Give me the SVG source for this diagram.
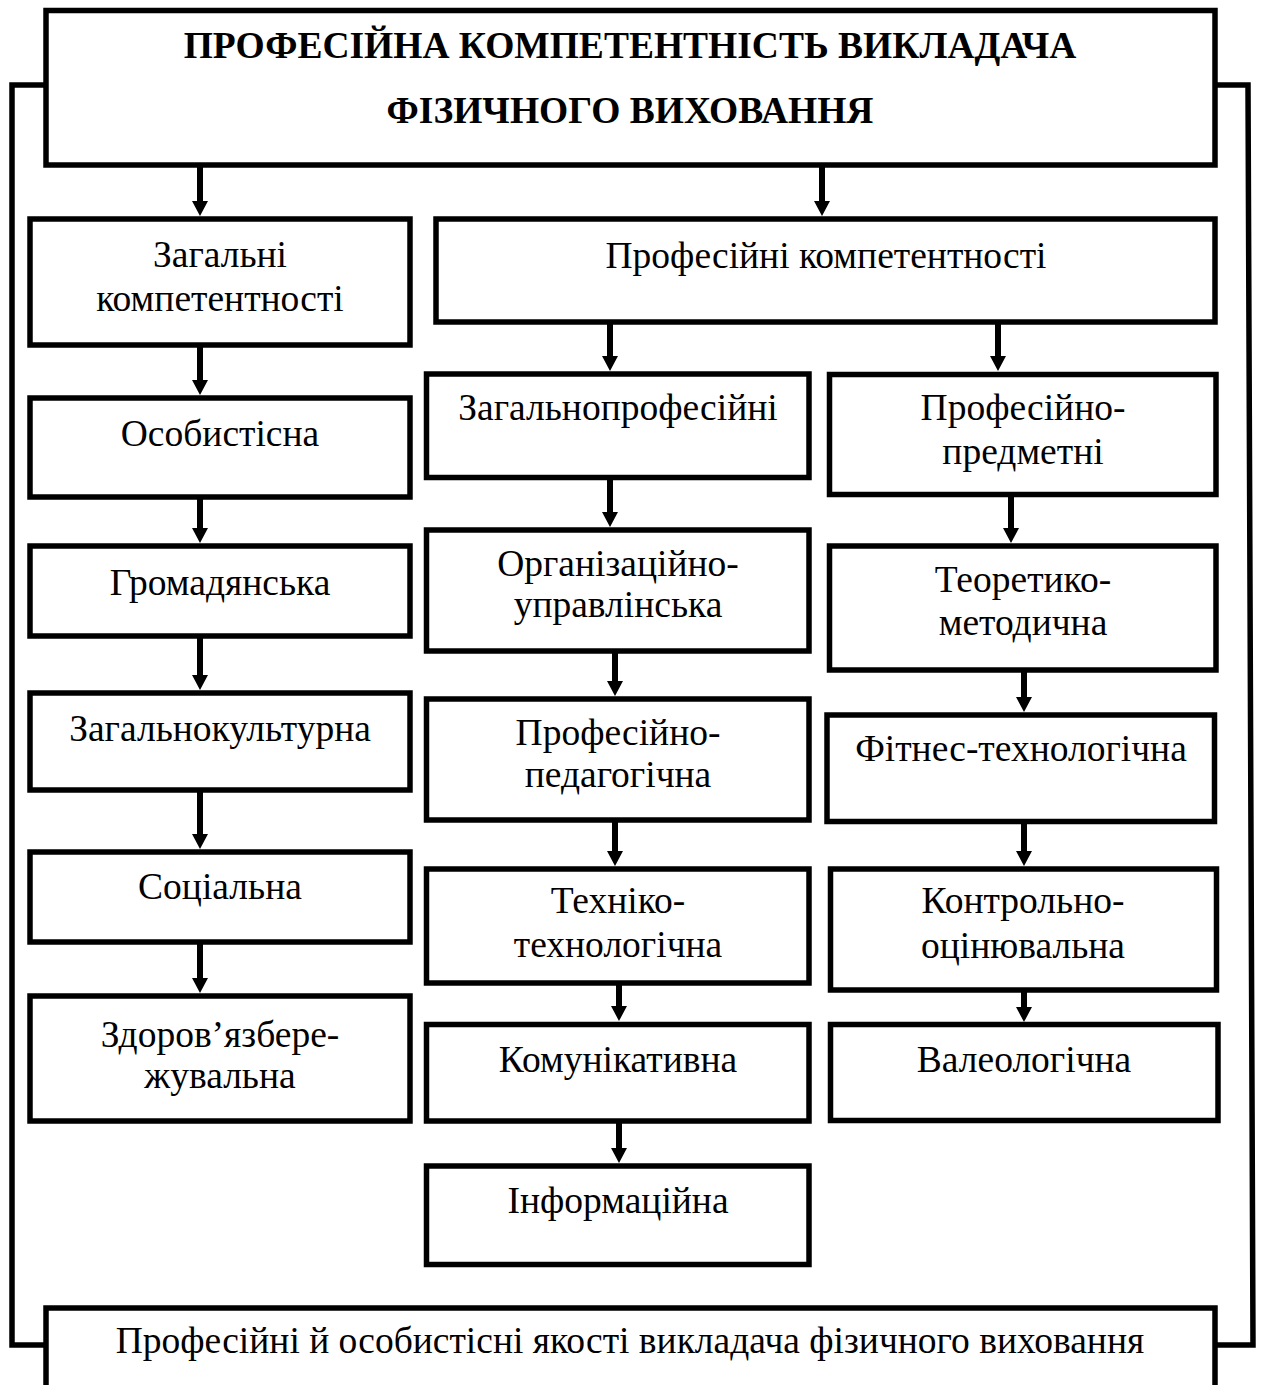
<svg xmlns="http://www.w3.org/2000/svg" width="1261" height="1385" viewBox="0 0 1261 1385">
<style>
.box{fill:#fff;stroke:#000;stroke-width:5.5}
.t{font-family:"Liberation Serif","Times New Roman",serif;font-size:37.5px;fill:#000;text-anchor:middle}
.b{font-weight:bold;font-size:37.5px}
.c{fill:none;stroke:#000;stroke-width:5.5}
.a{stroke:#000;stroke-width:6;fill:none;marker-end:url(#ah)}
</style>
<defs>
<marker id="ah" markerUnits="userSpaceOnUse" markerWidth="16" markerHeight="17" refX="2" refY="8" orient="auto" viewBox="0 0 16 17">
<path d="M0,0 L15,8 L0,16 z" fill="#000"/>
</marker>
</defs>
<rect width="1261" height="1385" fill="#fff"/>
<g id="connectors">
<polyline class="c" points="46,85 12,85 12,1345 46,1345"/>
<polyline class="c" points="1215,85 1248,85 1253,1345 1215,1345"/>
<line class="a" x1="200" y1="165" x2="200" y2="203"/>
<line class="a" x1="822" y1="165" x2="822" y2="203"/>
<line class="a" x1="200" y1="345" x2="200" y2="382"/>
<line class="a" x1="200" y1="497" x2="200" y2="530"/>
<line class="a" x1="200" y1="636" x2="200" y2="677"/>
<line class="a" x1="200" y1="790" x2="200" y2="836"/>
<line class="a" x1="200" y1="942" x2="200" y2="980"/>
<line class="a" x1="610" y1="322" x2="610" y2="358"/>
<line class="a" x1="998" y1="322" x2="998" y2="358"/>
<line class="a" x1="610" y1="477" x2="610" y2="514"/>
<line class="a" x1="615" y1="651" x2="615" y2="683"/>
<line class="a" x1="615" y1="820" x2="615" y2="853"/>
<line class="a" x1="619" y1="983" x2="619" y2="1008"/>
<line class="a" x1="619" y1="1121" x2="619" y2="1150"/>
<line class="a" x1="1011" y1="494" x2="1011" y2="530"/>
<line class="a" x1="1024" y1="670" x2="1024" y2="699"/>
<line class="a" x1="1024" y1="821" x2="1024" y2="853"/>
<line class="a" x1="1024" y1="990" x2="1024" y2="1009"/>
</g>
<g id="title">
<rect class="box" x="46" y="10.5" width="1169" height="154.5"/>
<text class="t b" x="630" y="58">ПРОФЕСІЙНА КОМПЕТЕНТНІСТЬ ВИКЛАДАЧА</text>
<text class="t b" x="630" y="123">ФІЗИЧНОГО ВИХОВАННЯ</text>
</g>
<g id="zagalni">
<rect class="box" x="30" y="219" width="380" height="126"/>
<text class="t" x="220" y="267">Загальні</text>
<text class="t" x="220" y="311">компетентності</text>
</g>
<g id="osobystisna">
<rect class="box" x="30" y="398" width="380" height="99"/>
<text class="t" x="220" y="446">Особистісна</text>
</g>
<g id="hromadianska">
<rect class="box" x="30" y="546" width="380" height="90"/>
<text class="t" x="220" y="595">Громадянська</text>
</g>
<g id="zagalnokulturna">
<rect class="box" x="30" y="693" width="380" height="97"/>
<text class="t" x="220" y="741">Загальнокультурна</text>
</g>
<g id="sotsialna">
<rect class="box" x="30" y="852" width="380" height="90"/>
<text class="t" x="220" y="899">Соціальна</text>
</g>
<g id="zdorov">
<rect class="box" x="30" y="996" width="380" height="125"/>
<text class="t" x="220" y="1047">Здоров’язбере-</text>
<text class="t" x="220" y="1088">жувальна</text>
</g>
<g id="profesiini">
<rect class="box" x="436" y="219" width="779" height="103"/>
<text class="t" x="826" y="268">Професійні компетентності</text>
</g>
<g id="zagalnoprof">
<rect class="box" x="426.5" y="374" width="382.5" height="103.5"/>
<text class="t" x="618" y="420">Загальнопрофесійні</text>
</g>
<g id="org">
<rect class="box" x="426.5" y="530" width="382.5" height="121"/>
<text class="t" x="618" y="576">Організаційно-</text>
<text class="t" x="618" y="617">управлінська</text>
</g>
<g id="profped">
<rect class="box" x="426.5" y="699" width="382.5" height="121"/>
<text class="t" x="618" y="745">Професійно-</text>
<text class="t" x="618" y="787">педагогічна</text>
</g>
<g id="tekhniko">
<rect class="box" x="426.5" y="869" width="382.5" height="114"/>
<text class="t" x="618" y="913">Техніко-</text>
<text class="t" x="618" y="957">технологічна</text>
</g>
<g id="komunik">
<rect class="box" x="426.5" y="1024.5" width="382.5" height="96.5"/>
<text class="t" x="618" y="1072">Комунікативна</text>
</g>
<g id="inform">
<rect class="box" x="426.5" y="1166" width="382.5" height="98.5"/>
<text class="t" x="618" y="1213">Інформаційна</text>
</g>
<g id="profpredm">
<rect class="box" x="829.5" y="374.5" width="386.5" height="120"/>
<text class="t" x="1023" y="420">Професійно-</text>
<text class="t" x="1023" y="464">предметні</text>
</g>
<g id="teoretyko">
<rect class="box" x="829.5" y="546" width="386.5" height="124"/>
<text class="t" x="1023" y="592">Теоретико-</text>
<text class="t" x="1023" y="635">методична</text>
</g>
<g id="fitnes">
<rect class="box" x="827" y="715" width="387.5" height="106.5"/>
<text class="t" x="1021" y="761">Фітнес-технологічна</text>
</g>
<g id="kontrol">
<rect class="box" x="830.5" y="869" width="386" height="121"/>
<text class="t" x="1023" y="913">Контрольно-</text>
<text class="t" x="1023" y="958">оцінювальна</text>
</g>
<g id="valeo">
<rect class="box" x="830.5" y="1024.5" width="387.5" height="96"/>
<text class="t" x="1024" y="1072">Валеологічна</text>
</g>
<g id="yakosti">
<rect class="box" x="46" y="1308" width="1169" height="120"/>
<text class="t" x="630" y="1353">Професійні й особистісні якості викладача фізичного виховання</text>
</g>
</svg>
